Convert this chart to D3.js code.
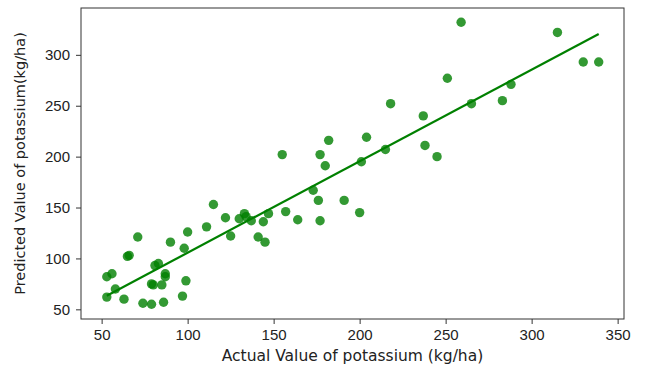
<!DOCTYPE html>
<html>
<head>
<meta charset="utf-8">
<script src="https://cdn.jsdelivr.net/npm/d3@7"></script>
<style>
  body { margin: 0; background: #fff; }
  svg { display: block; font-family: "DejaVu Sans", sans-serif; }
</style>
</head>
<body>
<div id="chart"></div>
<script>
// actual vs predicted potassium (kg/ha)
var actual = [53, 53, 56, 58, 63, 65, 66, 71, 74, 79, 79, 80, 81, 83, 85, 86, 87, 87, 90, 97,
  99, 98, 100, 111, 115, 122, 125, 130, 133, 134, 137, 141, 145, 144, 147, 155, 157, 164, 173, 176,
  177, 177, 180, 182, 191, 200, 201, 204, 215, 218, 237, 238, 245, 251, 259, 265, 283, 288, 315, 330, 339];
var predicted = [62, 82, 85, 70, 60, 102, 103, 121, 56, 55, 75, 74, 93, 95, 74, 57, 85, 82, 116, 63,
  78, 110, 126, 131, 153, 140, 122, 139, 144, 141, 137, 121, 116, 136, 144, 202, 146, 138, 167, 157,
  137, 202, 191, 216, 157, 145, 195, 219, 207, 252, 240, 211, 200, 277, 332, 252, 255, 271, 322, 293, 293];
var xTicks = [50, 100, 150, 200, 250, 300, 350];
var yTicks = [50, 100, 150, 200, 250, 300];
var xDomain = [38, 353.7];
var yDomain = [40.5, 346];

var width = 645, height = 366;
var margin = {top: 8, right: 21, bottom: 47, left: 81};
var w = width - margin.left - margin.right;
var h = height - margin.top - margin.bottom;

var svg = d3.select('#chart').append('svg')
  .attr('width', width)
  .attr('height', height);

var g = svg.append('g')
  .attr('transform', 'translate(' + margin.left + ',' + margin.top + ')');

var x = d3.scaleLinear().domain(xDomain).range([0, w]);
var y = d3.scaleLinear().domain(yDomain).range([h, 0]);

var points = actual.map(function(d, i) { return {x: d, y: predicted[i]}; });

// least squares fit, drawn over the data range
var mx = d3.mean(actual), my = d3.mean(predicted);
var sxy = d3.sum(points, function(p) { return (p.x - mx) * (p.y - my); });
var sxx = d3.sum(points, function(p) { return (p.x - mx) * (p.x - mx); });
var slope = sxy / sxx;
var intercept = my - slope * mx;
var xExt = d3.extent(actual);

g.selectAll('circle')
  .data(points)
  .enter()
  .append('circle')
  .attr('cx', function(d) { return x(d.x); })
  .attr('cy', function(d) { return y(d.y); })
  .attr('r', 4.7)
  .attr('fill', 'green')
  .attr('fill-opacity', 0.8);

g.append('line')
  .attr('x1', x(xExt[0]))
  .attr('y1', y(slope * xExt[0] + intercept))
  .attr('x2', x(xExt[1]))
  .attr('y2', y(slope * xExt[1] + intercept))
  .attr('stroke', 'green')
  .attr('stroke-width', 2.2);

// axes
var xAxis = g.append('g')
  .attr('transform', 'translate(0,' + h + ')')
  .call(d3.axisBottom(x).tickValues(xTicks).tickSize(5).tickPadding(5));
var yAxis = g.append('g')
  .call(d3.axisLeft(y).tickValues(yTicks).tickSize(5).tickPadding(6));

[xAxis, yAxis].forEach(function(a) {
  a.select('.domain').remove();
  a.selectAll('line').attr('stroke', '#333');
  a.selectAll('text')
    .attr('fill', '#222')
    .style('font-size', '15px');
});

// frame
g.append('rect')
  .attr('width', w)
  .attr('height', h)
  .attr('fill', 'none')
  .attr('stroke', '#333')
  .attr('stroke-width', 1);

svg.append('text')
  .attr('x', margin.left + w / 2)
  .attr('y', 361)
  .attr('text-anchor', 'middle')
  .attr('fill', '#222')
  .style('font-size', '15.5px')
  .text('Actual Value of potassium (kg/ha)');

svg.append('text')
  .attr('transform', 'translate(25,' + (margin.top + h / 2) + ') rotate(-90)')
  .attr('text-anchor', 'middle')
  .attr('fill', '#222')
  .style('font-size', '14.5px')
  .text('Predicted Value of potassium(kg/ha)');
</script>
</body>
</html>
